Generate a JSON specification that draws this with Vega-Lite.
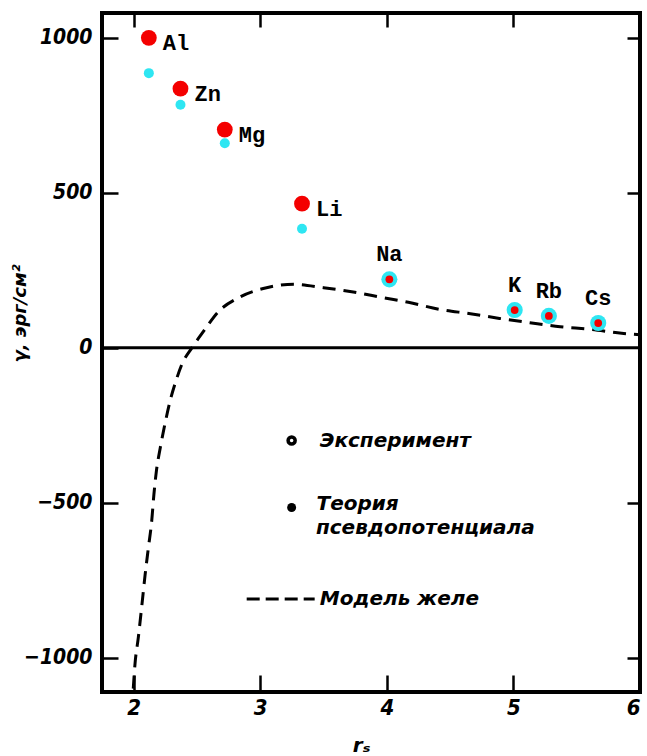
{
  "$schema": "https://vega.github.io/schema/vega-lite/v6.json",
  "width": 538,
  "height": 679,
  "autosize": {"type": "none"},
  "padding": {"left": 102, "top": 13, "right": 7, "bottom": 64},
  "background": "white",
  "config": {
    "view": {"stroke": "black", "strokeWidth": 4},
    "axis": {"grid": false, "domain": false, "tickColor": "black", "tickWidth": 2.5, "labelColor": "black", "titleColor": "black"}
  },
  "datasets": {
    "jellium": [
      {"rs": 1.997, "v": -1099}, {"rs": 2.01, "v": -1023}, {"rs": 2.037, "v": -934}, {"rs": 2.064, "v": -834},
      {"rs": 2.09, "v": -734}, {"rs": 2.116, "v": -646}, {"rs": 2.143, "v": -557}, {"rs": 2.16, "v": -473},
      {"rs": 2.18, "v": -396}, {"rs": 2.21, "v": -323}, {"rs": 2.25, "v": -240}, {"rs": 2.29, "v": -168},
      {"rs": 2.33, "v": -112}, {"rs": 2.38, "v": -54}, {"rs": 2.46, "v": 0}, {"rs": 2.55, "v": 52},
      {"rs": 2.67, "v": 117}, {"rs": 2.83, "v": 162}, {"rs": 3.05, "v": 194}, {"rs": 3.27, "v": 205},
      {"rs": 3.5, "v": 194}, {"rs": 3.735, "v": 180}, {"rs": 3.97, "v": 162}, {"rs": 4.17, "v": 147},
      {"rs": 4.42, "v": 124}, {"rs": 4.66, "v": 110}, {"rs": 4.89, "v": 95}, {"rs": 5.13, "v": 81},
      {"rs": 5.37, "v": 68}, {"rs": 5.6, "v": 60}, {"rs": 5.855, "v": 47}, {"rs": 6.0, "v": 42}
    ],
    "metals": [
      {"el": "Al", "rs": 2.12, "theory": 1000, "exp": 886, "group": "poly"},
      {"el": "Zn", "rs": 2.37, "theory": 836, "exp": 784, "group": "poly"},
      {"el": "Mg", "rs": 2.72, "theory": 704, "exp": 660, "group": "poly"},
      {"el": "Li", "rs": 3.33, "theory": 465, "exp": 384, "group": "poly"},
      {"el": "Na", "rs": 4.02, "theory": 221, "exp": 221, "group": "alkali"},
      {"el": "K", "rs": 5.01, "theory": 122, "exp": 122, "group": "alkali"},
      {"el": "Rb", "rs": 5.28, "theory": 103, "exp": 103, "group": "alkali"},
      {"el": "Cs", "rs": 5.67, "theory": 80, "exp": 80, "group": "alkali"}
    ],
    "legtext": [
      {"rs": 3.47, "v": -299, "t": "Эксперимент"},
      {"rs": 3.445, "v": -505, "t": "Теория"},
      {"rs": 3.44, "v": -580, "t": "псевдопотенциала"},
      {"rs": 3.47, "v": -810, "t": "Модель желе"}
    ],
    "legmarks": [
      {"rs": 3.248, "v": -299, "kind": "exp"},
      {"rs": 3.248, "v": -515, "kind": "theory"}
    ],
    "legline": [
      {"rs": 2.893, "v": -810},
      {"rs": 3.43, "v": -810}
    ],
    "zero": [{"v": 0}]
  },
  "layer": [
    {
      "data": {"name": "jellium"},
      "mark": {"type": "line", "color": "black", "strokeWidth": 3, "strokeDash": [13, 8], "interpolate": "monotone", "clip": true},
      "encoding": {
        "x": {"field": "rs", "type": "quantitative", "scale": {"domain": [1.75, 6.0], "nice": false, "zero": false},
          "axis": {"orient": "bottom", "values": [2, 3, 4, 5, 6], "tickSize": -17, "labelPadding": 22,
            "labelFont": "DejaVu Sans Condensed", "labelFontStyle": "italic", "labelFontWeight": "bold", "labelFontSize": 22,
            "title": "rₛ", "titleFont": "DejaVu Sans", "titleFontStyle": "italic", "titleFontWeight": "bold", "titleFontSize": 20,
            "titleX": 259, "titleY": 53, "titleBaseline": "middle"}},
        "y": {"field": "v", "type": "quantitative", "scale": {"domain": [-1110, 1080], "nice": false, "zero": false},
          "axis": {"orient": "left", "values": [-1000, -500, 0, 500, 1000], "format": "d", "tickSize": -16, "labelPadding": 26,
            "labelFont": "DejaVu Sans Condensed", "labelFontStyle": "italic", "labelFontWeight": "bold", "labelFontSize": 21,
            "title": "γ, эрг/см²", "titleFont": "DejaVu Sans", "titleFontStyle": "italic", "titleFontWeight": "bold", "titleFontSize": 18,
            "titleX": -82, "titleY": 300, "titleAlign": "center", "titleBaseline": "middle"}}
      }
    },
    {
      "data": {"name": "zero"},
      "mark": {"type": "rule", "color": "black", "strokeWidth": 3},
      "encoding": {
        "y": {"field": "v", "type": "quantitative", "scale": {"domain": [-1110, 1080], "nice": false, "zero": false}, "axis": null}
      }
    },
    {
      "data": {"name": "legline"},
      "mark": {"type": "line", "color": "black", "strokeWidth": 3, "strokeDash": [13, 6]},
      "encoding": {
        "x": {"field": "rs", "type": "quantitative", "scale": {"domain": [1.75, 6.0], "nice": false, "zero": false}, "axis": null},
        "y": {"field": "v", "type": "quantitative", "scale": {"domain": [-1110, 1080], "nice": false, "zero": false}, "axis": null}
      }
    },
    {
      "data": {"name": "legmarks"},
      "transform": [{"filter": "datum.kind == 'exp'"}],
      "mark": {"type": "point", "shape": "circle", "filled": false, "stroke": "black", "strokeWidth": 3.5, "size": 50, "opacity": 1},
      "encoding": {
        "x": {"field": "rs", "type": "quantitative", "scale": {"domain": [1.75, 6.0], "nice": false, "zero": false}, "axis": null},
        "y": {"field": "v", "type": "quantitative", "scale": {"domain": [-1110, 1080], "nice": false, "zero": false}, "axis": null}
      }
    },
    {
      "data": {"name": "legmarks"},
      "transform": [{"filter": "datum.kind == 'theory'"}],
      "mark": {"type": "point", "shape": "circle", "filled": true, "color": "black", "opacity": 1, "size": 80},
      "encoding": {
        "x": {"field": "rs", "type": "quantitative", "scale": {"domain": [1.75, 6.0], "nice": false, "zero": false}, "axis": null},
        "y": {"field": "v", "type": "quantitative", "scale": {"domain": [-1110, 1080], "nice": false, "zero": false}, "axis": null}
      }
    },
    {
      "data": {"name": "legtext"},
      "mark": {"type": "text", "align": "left", "baseline": "middle", "font": "DejaVu Sans", "fontStyle": "italic", "fontWeight": "bold", "fontSize": 20, "color": "black"},
      "encoding": {
        "x": {"field": "rs", "type": "quantitative", "scale": {"domain": [1.75, 6.0], "nice": false, "zero": false}, "axis": null},
        "y": {"field": "v", "type": "quantitative", "scale": {"domain": [-1110, 1080], "nice": false, "zero": false}, "axis": null},
        "text": {"field": "t"}
      }
    },
    {
      "data": {"name": "metals"},
      "transform": [{"filter": "datum.group == 'poly'"}],
      "mark": {"type": "point", "shape": "circle", "filled": true, "color": "#2ee6f2", "opacity": 1, "size": 100},
      "encoding": {
        "x": {"field": "rs", "type": "quantitative", "scale": {"domain": [1.75, 6.0], "nice": false, "zero": false}, "axis": null},
        "y": {"field": "exp", "type": "quantitative", "scale": {"domain": [-1110, 1080], "nice": false, "zero": false}, "axis": null}
      }
    },
    {
      "data": {"name": "metals"},
      "transform": [{"filter": "datum.group == 'poly'"}],
      "mark": {"type": "point", "shape": "circle", "filled": true, "color": "#f40000", "opacity": 1, "size": 250},
      "encoding": {
        "x": {"field": "rs", "type": "quantitative", "scale": {"domain": [1.75, 6.0], "nice": false, "zero": false}, "axis": null},
        "y": {"field": "theory", "type": "quantitative", "scale": {"domain": [-1110, 1080], "nice": false, "zero": false}, "axis": null}
      }
    },
    {
      "data": {"name": "metals"},
      "transform": [{"filter": "datum.group == 'alkali'"}],
      "mark": {"type": "point", "shape": "circle", "filled": true, "color": "#2ee6f2", "opacity": 1, "size": 260},
      "encoding": {
        "x": {"field": "rs", "type": "quantitative", "scale": {"domain": [1.75, 6.0], "nice": false, "zero": false}, "axis": null},
        "y": {"field": "exp", "type": "quantitative", "scale": {"domain": [-1110, 1080], "nice": false, "zero": false}, "axis": null}
      }
    },
    {
      "data": {"name": "metals"},
      "transform": [{"filter": "datum.group == 'alkali'"}],
      "mark": {"type": "point", "shape": "circle", "filled": true, "color": "#f40000", "opacity": 1, "size": 60},
      "encoding": {
        "x": {"field": "rs", "type": "quantitative", "scale": {"domain": [1.75, 6.0], "nice": false, "zero": false}, "axis": null},
        "y": {"field": "theory", "type": "quantitative", "scale": {"domain": [-1110, 1080], "nice": false, "zero": false}, "axis": null}
      }
    },
    {
      "data": {"name": "metals"},
      "transform": [{"filter": "datum.group == 'poly'"}],
      "mark": {"type": "text", "align": "left", "baseline": "middle", "dx": 14, "dy": 5, "font": "Liberation Mono", "fontWeight": "bold", "fontSize": 22, "color": "black"},
      "encoding": {
        "x": {"field": "rs", "type": "quantitative", "scale": {"domain": [1.75, 6.0], "nice": false, "zero": false},
          "axis": {"orient": "top", "values": [2, 3, 4, 5, 6], "labels": false, "tickSize": -14, "title": null}},
        "y": {"field": "theory", "type": "quantitative", "scale": {"domain": [-1110, 1080], "nice": false, "zero": false},
          "axis": {"orient": "right", "values": [-1000, -500, 500, 1000], "labels": false, "tickSize": -13, "title": null}},
        "text": {"field": "el"}
      }
    },
    {
      "data": {"name": "metals"},
      "transform": [{"filter": "datum.group == 'alkali'"}],
      "mark": {"type": "text", "align": "center", "baseline": "bottom", "dy": -13, "font": "Liberation Mono", "fontWeight": "bold", "fontSize": 22, "color": "black"},
      "encoding": {
        "x": {"field": "rs", "type": "quantitative", "scale": {"domain": [1.75, 6.0], "nice": false, "zero": false}, "axis": null},
        "y": {"field": "theory", "type": "quantitative", "scale": {"domain": [-1110, 1080], "nice": false, "zero": false}, "axis": null},
        "text": {"field": "el"}
      }
    }
  ],
  "resolve": {"axis": {"x": "independent", "y": "independent"}}
}
